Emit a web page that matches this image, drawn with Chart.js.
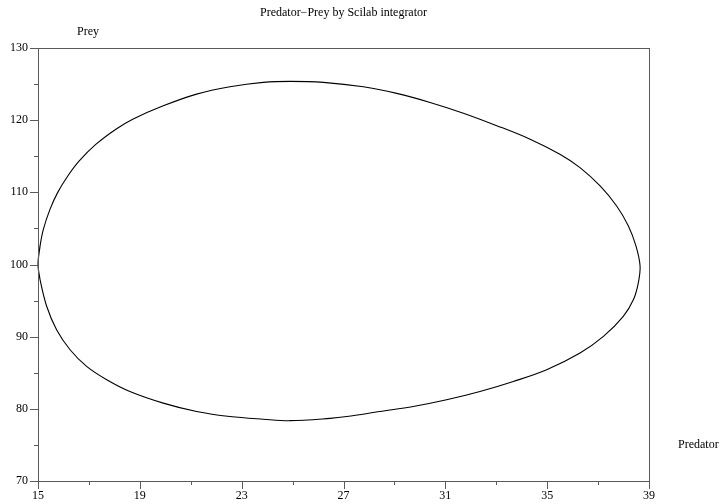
<!DOCTYPE html>
<html>
<head>
<meta charset="utf-8">
<script src="https://cdn.jsdelivr.net/npm/chart.js@4/dist/chart.umd.min.js"></script>
<style>
  html, body { margin: 0; padding: 0; background: #fff; }
  #wrap { width: 725px; height: 504px; }
</style>
</head>
<body>
<div id="wrap"><canvas id="chart" width="725" height="504"></canvas></div>
<script>
/* ─── DATA (one trip round the cycle;
   first and last samples overlap so the closing point is smooth) ─── */
const predator = [
  15.08, 15.00, 15.08, 15.21, 15.47, 15.77, 16.17, 16.62, 17.28, 18.06,
  18.72, 19.92, 21.23, 22.54, 23.85, 24.90, 26.21, 27.78, 29.09, 30.40,
  31.71, 33.02, 34.33, 35.50, 36.29, 37.08, 37.73, 38.19, 38.49, 38.65,
  38.58, 38.39, 37.99, 37.21, 36.29, 34.98, 33.67, 32.36, 31.05, 29.74,
  28.43, 27.13, 26.47, 24.90, 23.85, 22.54, 21.23, 19.92, 18.61, 17.70,
  16.91, 16.26, 15.73, 15.34, 15.08, 15.00, 15.08
];
const prey = [
  97.92, 100.0, 102.54, 104.86, 107.64, 109.96, 112.26, 114.35, 116.67, 118.75,
  120.14, 121.99, 123.61, 124.63, 125.24, 125.38, 125.24, 124.63, 123.71, 122.46,
  120.97, 119.24, 117.36, 115.28, 113.43, 110.88, 108.10, 105.32, 102.54, 99.76,
  97.46, 95.14, 92.82, 90.04, 87.74, 85.42, 83.79, 82.40, 81.25, 80.32,
  79.63, 78.93, 78.68, 78.36, 78.56, 78.93, 79.63, 80.79, 82.40, 84.03,
  85.88, 88.19, 90.97, 94.21, 97.92, 100.0, 102.54
];

const xMajor = [15, 19, 23, 27, 31, 35, 39];
const yMajor = [70, 80, 90, 100, 110, 120, 130];

const TITLE   = 'Predator\u2212Prey by Scilab integrator';
const Y_TITLE = 'Prey';
const X_TITLE = 'Predator';

/* ─── STYLE ─── */
const FONT      = "'Liberation Serif', 'Times New Roman', serif";
const AXIS_GRAY = '#5a5a5a';
const TEXT      = '#000';

const points = predator.map((x, i) => ({ x, y: prey[i] }));

/* box, outward ticks and free text, Scilab style */
const scilabFrame = {
  id: 'scilabFrame',
  afterDraw(chart) {
    const { ctx, chartArea: a, scales: { x, y } } = chart;
    ctx.save();
    ctx.strokeStyle = AXIS_GRAY;
    ctx.lineWidth = 1;
    ctx.strokeRect(a.left + 0.5, a.top + 0.5, a.right - a.left, a.bottom - a.top);

    ctx.beginPath();
    x.ticks.forEach(t => {
      const px = Math.round(x.getPixelForValue(t.value)) + 0.5;
      const len = xMajor.includes(t.value) ? 8 : 4;
      ctx.moveTo(px, a.bottom);
      ctx.lineTo(px, a.bottom + len);
    });
    y.ticks.forEach(t => {
      const py = Math.round(y.getPixelForValue(t.value)) + 0.5;
      const len = yMajor.includes(t.value) ? 8 : 4;
      ctx.moveTo(a.left, py);
      ctx.lineTo(a.left - len, py);
    });
    ctx.stroke();

    ctx.fillStyle = TEXT;
    ctx.font = `12px ${FONT}`;
    ctx.textBaseline = 'middle';
    ctx.textAlign = 'center';
    ctx.fillText(TITLE, (a.left + a.right) / 2, 13);
    ctx.textAlign = 'left';
    ctx.fillText(Y_TITLE, 77, 32);
    ctx.fillText(X_TITLE, 678, 445);
    ctx.restore();
  }
};

new Chart(document.getElementById('chart'), {
  type: 'scatter',
  data: {
    datasets: [{
      data: points,
      showLine: true,
      borderColor: '#000',
      borderWidth: 1.1,
      pointRadius: 0,
      tension: 0.35,
      clip: 3,
    }]
  },
  options: {
    responsive: false,
    animation: false,
    layout: { padding: { top: 48, right: 76, left: 0, bottom: 0 } },
    plugins: { legend: { display: false }, tooltip: { enabled: false } },
    scales: {
      x: {
        type: 'linear',
        min: 15, max: 39,
        afterFit: s => { s.height = 23; },
        grid: { display: false },
        border: { display: false },
        ticks: {
          stepSize: 2,
          autoSkip: false,
          maxRotation: 0,
          padding: 0,
          color: TEXT,
          font: { family: FONT, size: 12 },
          callback: v => xMajor.includes(v) ? String(v) : ''
        }
      },
      y: {
        type: 'linear',
        min: 70, max: 130,
        afterFit: s => { s.width = 38; },
        grid: { display: false },
        border: { display: false },
        ticks: {
          stepSize: 5,
          autoSkip: false,
          padding: 2,
          color: TEXT,
          font: { family: FONT, size: 12 },
          callback: v => yMajor.includes(v) ? String(v) : ''
        }
      }
    }
  },
  plugins: [scilabFrame]
});
</script>
</body>
</html>
